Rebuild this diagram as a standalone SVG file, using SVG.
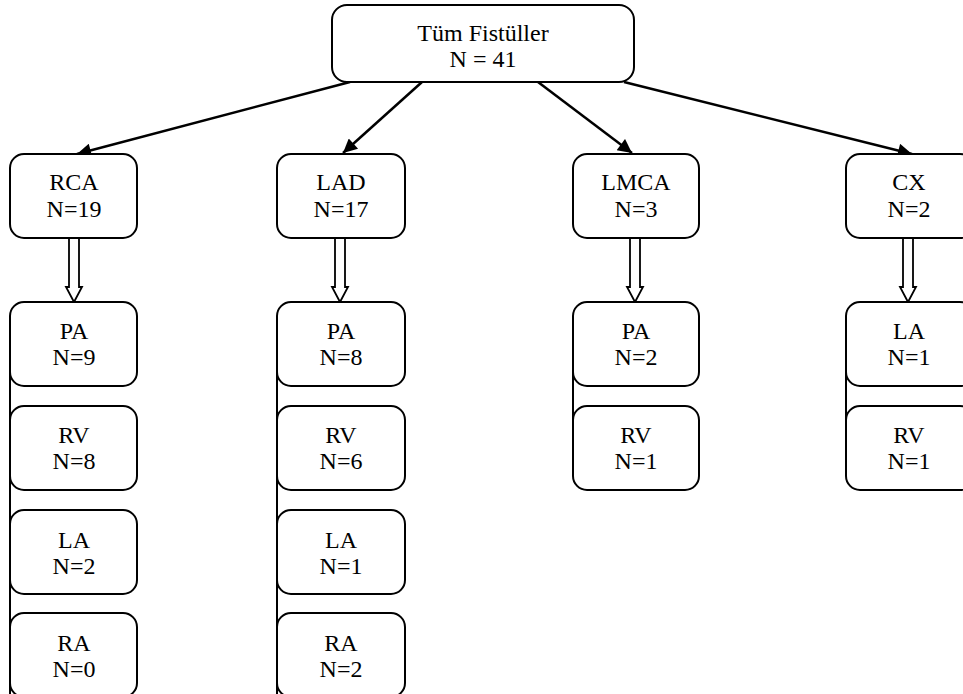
<svg xmlns="http://www.w3.org/2000/svg" width="963" height="694" viewBox="0 0 963 694">
<style>
.box{fill:#fff;stroke:#000;stroke-width:2}
.t{font-family:"Liberation Serif","Times New Roman",serif;font-size:24px;fill:#000;text-anchor:middle}
.conn{stroke:#000;stroke-width:2.5;fill:none}
.hollow{fill:#fff;stroke:#000;stroke-width:1.8;stroke-linejoin:miter}
.vline{stroke:#000;stroke-width:2;fill:none}
</style>
<defs>
<marker id="ah" viewBox="0 0 10 10" refX="10" refY="5" markerWidth="17" markerHeight="14" markerUnits="userSpaceOnUse" orient="auto">
<path d="M0,0 L10,5 L0,10 z" fill="#000"/>
</marker>
</defs>
<rect width="963" height="694" fill="#fff"/>
<g id="connectors">
<line class="conn" x1="350" y1="82" x2="77" y2="154" marker-end="url(#ah)"/>
<line class="conn" x1="422" y1="82" x2="343" y2="153" marker-end="url(#ah)"/>
<line class="conn" x1="538" y1="82" x2="632" y2="153" marker-end="url(#ah)"/>
<line class="conn" x1="624" y1="82" x2="912" y2="154" marker-end="url(#ah)"/>
<polygon class="hollow" points="69,238 79,238 79,287 82,287 74,302 66,287 69,287"/>
<polygon class="hollow" points="335,238 345,238 345,287 348,287 340,302 332,287 335,287"/>
<polygon class="hollow" points="630,238 640,238 640,287 643,287 635,302 627,287 630,287"/>
<polygon class="hollow" points="903,238 913,238 913,287 916,287 908,302 900,287 903,287"/>
<line class="vline" x1="10" y1="316" x2="10" y2="694"/>
<line class="vline" x1="277" y1="316" x2="277" y2="694"/>
<line class="vline" x1="573" y1="316" x2="573" y2="476"/>
<line class="vline" x1="846" y1="316" x2="846" y2="476"/>
</g>
<g id="root"><rect class="box" x="332" y="5" width="302" height="77" rx="15"/><text class="t" x="483" y="41">Tüm Fistüller</text><text class="t" x="483" y="67">N = 41</text></g>
<g id="rca"><rect class="box" x="10" y="154" width="127" height="84" rx="14"/><text class="t" x="74" y="190">RCA</text><text class="t" x="74" y="217">N=19</text></g>
<g id="lad"><rect class="box" x="277" y="154" width="128" height="84" rx="14"/><text class="t" x="341" y="190">LAD</text><text class="t" x="341" y="217">N=17</text></g>
<g id="lmca"><rect class="box" x="573" y="154" width="126" height="84" rx="14"/><text class="t" x="636" y="190">LMCA</text><text class="t" x="636" y="217">N=3</text></g>
<g id="cx"><rect class="box" x="846" y="154" width="128" height="84" rx="14"/><text class="t" x="909" y="190">CX</text><text class="t" x="909" y="217">N=2</text></g>
<g id="rca-pa"><rect class="box" x="10" y="302" width="127" height="84" rx="14"/><text class="t" x="74" y="339">PA</text><text class="t" x="74" y="365">N=9</text></g>
<g id="rca-rv"><rect class="box" x="10" y="406" width="127" height="84" rx="14"/><text class="t" x="74" y="443">RV</text><text class="t" x="74" y="469">N=8</text></g>
<g id="rca-la"><rect class="box" x="10" y="510" width="127" height="84" rx="14"/><text class="t" x="74" y="548">LA</text><text class="t" x="74" y="574">N=2</text></g>
<g id="rca-ra"><rect class="box" x="10" y="613" width="127" height="84" rx="14"/><text class="t" x="74" y="651">RA</text><text class="t" x="74" y="677">N=0</text></g>
<g id="lad-pa"><rect class="box" x="277" y="302" width="128" height="84" rx="14"/><text class="t" x="341" y="339">PA</text><text class="t" x="341" y="365">N=8</text></g>
<g id="lad-rv"><rect class="box" x="277" y="406" width="128" height="84" rx="14"/><text class="t" x="341" y="443">RV</text><text class="t" x="341" y="469">N=6</text></g>
<g id="lad-la"><rect class="box" x="277" y="510" width="128" height="84" rx="14"/><text class="t" x="341" y="548">LA</text><text class="t" x="341" y="574">N=1</text></g>
<g id="lad-ra"><rect class="box" x="277" y="613" width="128" height="84" rx="14"/><text class="t" x="341" y="651">RA</text><text class="t" x="341" y="677">N=2</text></g>
<g id="lmca-pa"><rect class="box" x="573" y="302" width="126" height="84" rx="14"/><text class="t" x="636" y="339">PA</text><text class="t" x="636" y="365">N=2</text></g>
<g id="lmca-rv"><rect class="box" x="573" y="406" width="126" height="84" rx="14"/><text class="t" x="636" y="443">RV</text><text class="t" x="636" y="469">N=1</text></g>
<g id="cx-la"><rect class="box" x="846" y="302" width="128" height="84" rx="14"/><text class="t" x="909" y="339">LA</text><text class="t" x="909" y="365">N=1</text></g>
<g id="cx-rv"><rect class="box" x="846" y="406" width="128" height="84" rx="14"/><text class="t" x="909" y="443">RV</text><text class="t" x="909" y="469">N=1</text></g>
</svg>
